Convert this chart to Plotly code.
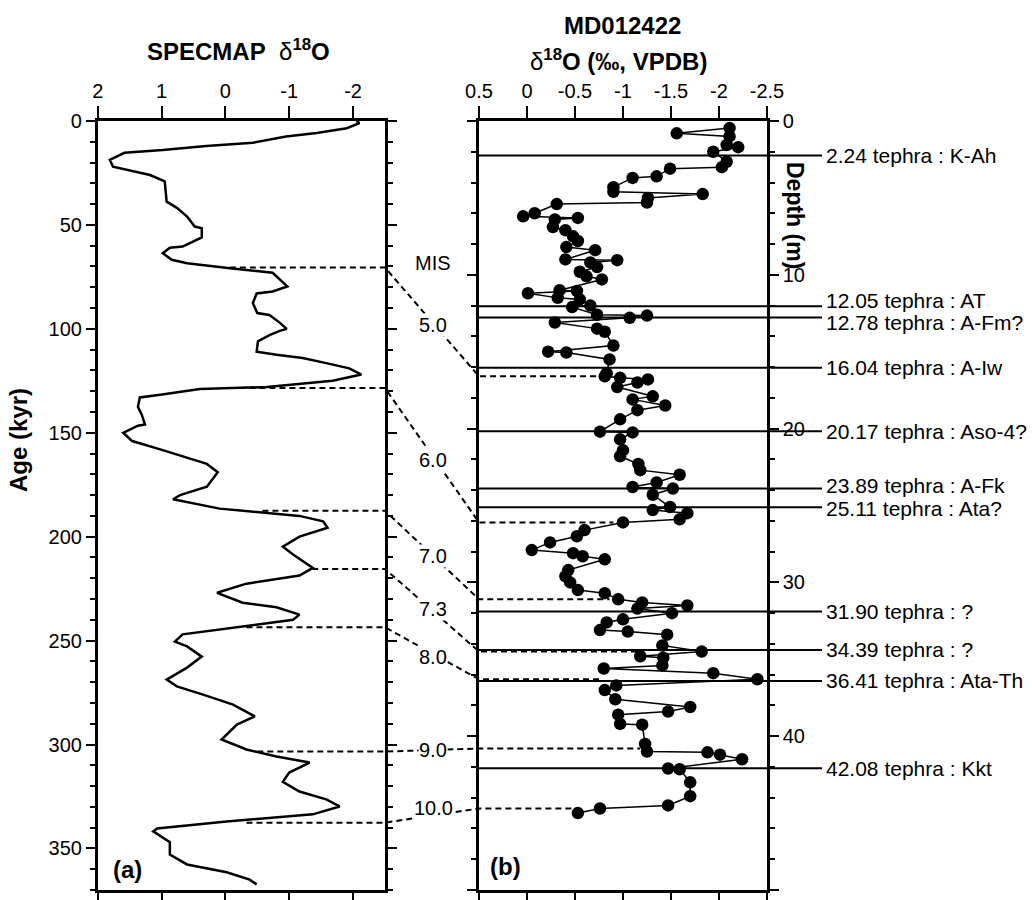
import plotly.graph_objects as go

# ---------------- data ----------------
# SPECMAP stack: age (kyr) and delta18O
spec_age = [0, 1, 3.5, 5.8, 7.5, 10.5, 12, 14, 15.3, 18.7, 22, 26, 29, 38.8, 41.8, 46, 50.8, 51.6, 56,
            60.4, 61, 63.6, 66.8, 68.4, 70.8, 73, 79.6, 82, 83, 87.6, 92.4, 93.3, 97, 100, 101, 103,
            106, 111, 112.5, 114, 116.5, 119, 122, 125, 128, 129, 131.7, 133, 137.5, 141.3, 146,
            146.6, 150, 154, 158, 161.5, 165, 169, 176, 180, 182, 186.5, 190, 192.6, 195.7, 200,
            204.8, 208.6, 215, 218.7, 222.6, 227, 231.8, 234, 237.5, 240, 243.8, 247, 250.5, 252.8,
            257.7, 263, 268.8, 272, 276, 280.8, 286.5, 290.4, 297.6, 302.4, 305.8, 308.7, 313.5,
            318, 322.6, 326.4, 329.8, 333.6, 337, 340.4, 341.8, 347, 352.9, 357.7, 361.5, 365, 367.3]
spec_d18o = [-2.05, -2.1, -1.9, -1.43, -0.95, -0.43, 0.3, 0.98, 1.58, 1.81, 1.76, 1.18, 0.95, 0.92,
             0.76, 0.6, 0.48, 0.37, 0.37, 0.67, 0.87, 0.98, 0.84, 0.6, -0.07, -0.74, -0.97, -0.74,
             -0.49, -0.43, -0.5, -0.69, -0.85, -0.96, -0.85, -0.69, -0.51, -0.49, -0.8, -1.21, -1.58,
             -1.94, -2.13, -1.68, -0.65, 0.4, 1.02, 1.34, 1.37, 1.31, 1.26, 1.37, 1.6, 1.46, 1.02,
             0.67, 0.29, 0.12, 0.29, 0.71, 0.82, 0.09, -1.16, -1.53, -1.6, -1.16, -0.9, -1.06, -1.37,
             -1.16, -0.33, 0.13, -0.27, -0.8, -1.16, -1.06, -0.12, 0.67, 0.79, 0.6, 0.37, 0.6, 0.92,
             0.76, 0.35, -0.12, -0.46, -0.18, 0.06, -0.33, -0.8, -1.32, -1.0, -0.9, -1.16, -1.58,
             -1.79, -1.37, -0.02, 1.07, 1.13, 0.87, 0.87, 0.6, -0.02, -0.38, -0.49]

# MD012422 core: depth (m) and delta18O (permil VPDB)
md_depth = [0.46, 0.8, 1.0, 1.56, 1.7, 2.0, 2.65, 3.0, 3.1, 3.6, 3.7, 4.3, 4.6, 4.75, 5.0, 5.3, 5.4,
            6.0, 6.2, 6.3, 6.4, 6.9, 7.1, 7.5, 7.8, 8.2, 8.4, 9.0, 9.05, 9.2, 9.5, 9.8, 10.1, 10.3,
            11.0, 11.05, 11.2, 11.5, 11.6, 12.0, 12.1, 12.6, 12.65, 12.8, 13.1, 13.5, 13.7, 14.6,
            15.0, 15.05, 15.5, 16.4, 16.6, 16.7, 16.8, 17.0, 17.3, 17.9, 18.1, 18.5, 18.8, 19.4,
            20.2, 20.25, 20.7, 21.4, 21.8, 22.3, 22.7, 23.0, 23.5, 23.8, 23.9, 24.3, 25.1, 25.3,
            25.5, 25.9, 26.1, 26.6, 27.0, 27.4, 27.9, 28.1, 28.3, 28.5, 29.2, 29.6, 30.0, 30.5,
            30.7, 31.1, 31.3, 31.5, 31.7, 32.0, 32.4, 32.6, 33.1, 33.2, 33.4, 34.1, 34.5, 34.8,
            34.9, 35.4, 35.6, 35.9, 36.3, 36.7, 37.0, 37.6, 38.1, 38.4, 38.6, 39.2, 39.25, 40.5,
            41.0, 41.05, 41.2, 41.5, 42.1, 42.15, 43.0, 43.9, 44.5, 44.7, 45.0]
md_d18o = [-2.11, -1.56, -2.11, -2.08, -2.2, -1.94, -2.08, -2.03, -1.49, -1.35, -1.1, -0.9, -0.9,
           -1.83, -1.26, -1.25, -0.31, -0.08, 0.04, -0.53, -0.29, -0.27, -0.4, -0.48, -0.53, -0.41,
           -0.71, -0.4, -0.94, -0.66, -0.73, -0.55, -0.62, -0.78, -0.34, -0.52, -0.01, -0.32,
           -0.55, -0.66, -0.47, -0.73, -1.25, -1.07, -0.29, -0.73, -0.81, -0.9, -0.22, -0.41,
           -0.86, -0.83, -0.81, -0.97, -1.26, -1.15, -0.94, -1.31, -1.1, -1.44, -1.15, -0.97,
           -0.76, -1.1, -0.97, -1.0, -0.97, -1.16, -1.18, -1.59, -1.35, -1.1, -1.52, -1.31,
           -1.49, -1.31, -1.67, -1.59, -1.0, -0.6, -0.52, -0.24, -0.05, -0.48, -0.58, -0.81,
           -0.43, -0.4, -0.45, -0.53, -0.81, -0.95, -1.2, -1.67, -1.15, -1.51, -1.0, -0.83,
           -0.76, -1.05, -1.46, -1.41, -1.82, -1.18, -1.42, -1.41, -0.8, -1.94, -2.4, -0.93,
           -0.81, -0.92, -1.7, -1.47, -0.95, -0.97, -1.2, -1.23, -1.25, -1.88, -2.01, -2.24,
           -1.47, -1.59, -1.7, -1.7, -1.47, -0.76, -0.53]

# tephra layers
tephra_depth = [2.24, 12.05, 12.78, 16.04, 20.17, 23.89, 25.11, 31.90, 34.39, 36.41, 42.08]
tephra_name = ["K-Ah", "AT", "A-Fm?", "A-Iw", "Aso-4?", "A-Fk", "Ata?", "?", "?", "Ata-Th", "Kkt"]

# tie points SPECMAP age <-> core depth (MIS boundaries)
tie_age = [70.5, 128.5, 187.5, 215.5, 243.6, 303.4, 337.6]
tie_spec_d18o = [-0.07, -0.22, -0.58, -1.36, -0.33, -0.5, -0.33]
tie_depth = [16.6, 26.1, 31.1, 34.5, 36.3, 40.8, 44.7]
tie_md_d18o = [-0.79, -0.9, -0.86, -1.18, -0.76, -1.18, -0.52]

mis_labels = ["MIS", "5.0", "6.0", "7.0", "7.3", "8.0", "9.0", "10.0"]

spec_xticks = [2, 1, 0, -1, -2]
md_xticks = [0.5, 0, -0.5, -1, -1.5, -2, -2.5]

# ---------------- layout geometry ----------------
W, H = 1032, 900
XA = (97.7 / W, 385 / W)
XB = (479 / W, 767 / W)
YD = (1 - 890 / H, 1 - 121 / H)
SPEC_XR = (2, -2.5)
SPEC_YR = (370, 0)
MD_XR = (0.5, -2.5)
MD_YR = (50, 0)
FONT = "Liberation Sans, Arial, Helvetica, sans-serif"


def xa_p(v):
    return XA[0] + (v - SPEC_XR[0]) / (SPEC_XR[1] - SPEC_XR[0]) * (XA[1] - XA[0])


def age_p(a):
    return YD[1] - (a - SPEC_YR[1]) / (SPEC_YR[0] - SPEC_YR[1]) * (YD[1] - YD[0])


def xb_p(v):
    return XB[0] + (v - MD_XR[0]) / (MD_XR[1] - MD_XR[0]) * (XB[1] - XB[0])


def depth_p(d):
    return YD[1] - (d - MD_YR[1]) / (MD_YR[0] - MD_YR[1]) * (YD[1] - YD[0])


def fmt(v):
    return "%g" % v


fig = go.Figure()
fig.add_trace(go.Scatter(x=spec_d18o, y=spec_age, mode="lines",
                         line=dict(color="black", width=2.5), xaxis="x", yaxis="y",
                         showlegend=False))
fig.add_trace(go.Scatter(x=md_d18o, y=md_depth, mode="lines+markers",
                         line=dict(color="black", width=1.5),
                         marker=dict(color="black", size=12.5, symbol="circle"),
                         xaxis="x2", yaxis="y2", showlegend=False, cliponaxis=False))

axis_common = dict(showline=True, linecolor="black", linewidth=2.5, ticks="outside",
                   tickcolor="black", tickwidth=2, showgrid=False, zeroline=False,
                   mirror="ticks", tickfont=dict(family=FONT, size=20, color="black"),
                   automargin=False)

fig.update_layout(
    width=W, height=H, margin=dict(l=0, r=0, t=0, b=0),
    paper_bgcolor="white", plot_bgcolor="white",
    font=dict(family=FONT, color="black"),
    xaxis=dict(domain=list(XA), range=list(SPEC_XR), side="top", anchor="y",
               tickvals=spec_xticks, ticktext=[fmt(v) for v in spec_xticks], ticklen=12,
               **axis_common),
    yaxis=dict(domain=list(YD), range=list(SPEC_YR), anchor="x", dtick=50, tick0=0,
               ticklen=9, minor=dict(dtick=10, ticklen=5, tickwidth=1.5, ticks="outside",
                                     tickcolor="black"),
               **axis_common),
    xaxis2=dict(domain=list(XB), range=list(MD_XR), side="top", anchor="y2",
                tickvals=md_xticks, ticktext=[fmt(v) for v in md_xticks], ticklen=12,
                **axis_common),
    yaxis2=dict(domain=list(YD), range=list(MD_YR), anchor="x2", side="right", dtick=10,
                tick0=0, ticklen=9, minor=dict(dtick=2, ticklen=5, tickwidth=1.5,
                                               ticks="outside", tickcolor="black"),
                **axis_common),
)

shapes = []
# tephra lines
for d in tephra_depth:
    shapes.append(dict(type="line", xref="paper", yref="y2", x0=XB[0], x1=822 / W, y0=d, y1=d,
                       line=dict(color="black", width=2), layer="above"))
# tie connectors (dashed)
for a, sx, d, mx in zip(tie_age, tie_spec_d18o, tie_depth, tie_md_d18o):
    path = "M %f,%f L %f,%f L %f,%f L %f,%f" % (xa_p(sx), age_p(a), XA[1], age_p(a),
                                                  XB[0], depth_p(d), xb_p(mx), depth_p(d))
    shapes.append(dict(type="path", xref="paper", yref="paper", path=path,
                       line=dict(color="black", width=2, dash="6px,4px"), layer="above"))
fig.update_layout(shapes=shapes)

ann = []
# tephra labels
tephra_shift = [0, 6, -5, 0, 0, 3, -1, 0, 0, 0, 0]
for d, n, s in zip(tephra_depth, tephra_name, tephra_shift):
    ann.append(dict(xref="paper", yref="y2", x=824 / W, y=d, yshift=s, xanchor="left",
                    yanchor="middle", showarrow=False, text="%.2f tephra : %s" % (d, n),
                    font=dict(family=FONT, size=21, color="black")))
# MIS labels
mis_y = [263, 325, 460, 556, 609, 657, 750, 808]
for lab, yy in zip(mis_labels, mis_y):
    ann.append(dict(xref="paper", yref="paper", x=433 / W, y=1 - yy / H, xanchor="center",
                    yanchor="middle", showarrow=False, text=lab, bgcolor="white",
                    borderpad=0, font=dict(family=FONT, size=20, color="black")))
# titles
ann += [
    dict(xref="paper", yref="paper", x=238 / W, y=1 - 50 / H, showarrow=False,
         text="<b>SPECMAP</b>  δ<sup><b>18</b></sup><b>O</b>", xanchor="center", yanchor="middle",
         font=dict(family=FONT, size=24, color="black")),
    dict(xref="paper", yref="paper", x=622 / W, y=1 - 25 / H, showarrow=False,
         text="<b>MD012422</b>", xanchor="center", yanchor="middle",
         font=dict(family=FONT, size=24, color="black")),
    dict(xref="paper", yref="paper", x=618 / W, y=1 - 60 / H, showarrow=False,
         text="δ<sup><b>18</b></sup><b>O (‰, VPDB)</b>", xanchor="center", yanchor="middle",
         font=dict(family=FONT, size=24, color="black")),
    dict(xref="paper", yref="paper", x=18 / W, y=1 - 440 / H, showarrow=False,
         text="<b>Age (kyr)</b>", textangle=-90, xanchor="center", yanchor="middle",
         font=dict(family=FONT, size=24, color="black")),
    dict(xref="paper", yref="paper", x=795 / W, y=1 - 215 / H, showarrow=False,
         text="<b>Depth (m)</b>", textangle=90, xanchor="center", yanchor="middle",
         font=dict(family=FONT, size=23, color="black")),
    dict(xref="paper", yref="paper", x=127 / W, y=1 - 869 / H, showarrow=False,
         text="<b>(a)</b>", xanchor="center", yanchor="middle",
         font=dict(family=FONT, size=24, color="black")),
    dict(xref="paper", yref="paper", x=505 / W, y=1 - 866 / H, showarrow=False,
         text="<b>(b)</b>", xanchor="center", yanchor="middle",
         font=dict(family=FONT, size=24, color="black")),
]
fig.update_layout(annotations=ann)

fig.write_html("out.html", config={"displayModeBar": False},
               post_script="document.body.style.margin='0';")
